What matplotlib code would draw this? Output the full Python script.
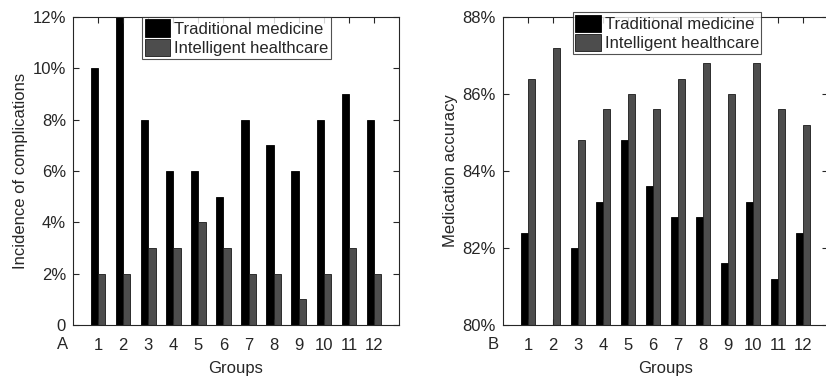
import numpy as np
import matplotlib
matplotlib.use("Agg")
import matplotlib.pyplot as plt
from matplotlib.ticker import FuncFormatter

plt.rcParams['font.family'] = ['Liberation Sans', 'DejaVu Sans']

groups = [1, 2, 3, 4, 5, 6, 7, 8, 9, 10, 11, 12]
series_names = ["Traditional medicine", "Intelligent healthcare"]

# panel A: incidence of complications (%)
comp_traditional = [10, 12, 8, 6, 6, 5, 8, 7, 6, 8, 9, 8]
comp_intelligent = [2, 2, 3, 3, 4, 3, 2, 2, 1, 2, 3, 2]

# panel B: medication accuracy (%), group 2 traditional not visible (below 80%)
acc_traditional = [82.4, np.nan, 82.0, 83.2, 84.8, 83.6, 82.8, 82.8, 81.6, 83.2, 81.2, 82.4]
acc_intelligent = [86.4, 87.2, 84.8, 85.6, 86.0, 85.6, 86.4, 86.8, 86.0, 86.8, 85.6, 85.2]

txt = '#262626'
colors = ['#000000', '#4d4d4d']
fs = 12

fig = plt.figure(figsize=(8.26, 3.76), dpi=100)
axA = fig.add_axes([0.0884, 0.1356, 0.3947, 0.8192])
axB = fig.add_axes([0.609, 0.1356, 0.3935, 0.8192])


def draw(ax, trad, intel, ylim, yticks, fmt, ylabel, letter, leg_anchor):
    x = np.array(groups)
    w = 0.29
    base = ylim[0]
    trad = np.array(trad, dtype=float)
    intel = np.array(intel, dtype=float)
    ax.bar(x - w / 2, trad - base, w, bottom=base, color=colors[0],
           edgecolor='#000000', linewidth=0.6, label=series_names[0])
    ax.bar(x + w / 2, intel - base, w, bottom=base, color=colors[1],
           edgecolor='#1a1a1a', linewidth=0.6, label=series_names[1])
    ax.set_xlim(0, 13)
    ax.set_ylim(*ylim)
    ax.set_xticks(groups)
    ax.set_yticks(yticks)
    ax.yaxis.set_major_formatter(FuncFormatter(fmt))
    ax.tick_params(direction='in', length=4, width=0.8, colors=txt,
                   labelsize=fs, top=True, right=True)
    ax.tick_params(axis='x', pad=9)
    ax.tick_params(axis='y', pad=5)
    for s in ax.spines.values():
        s.set_color(txt)
        s.set_linewidth(0.8)
    ax.set_xlabel("Groups", fontsize=fs, color=txt, labelpad=6)
    ax.set_ylabel(ylabel, fontsize=fs, color=txt, labelpad=3)
    # panel letter sits in the tick label row, left of the axes
    ax.text(-0.4, -0.063, letter, transform=ax.get_xaxis_transform(),
            fontsize=fs, color=txt, ha='center', va='center')
    leg = ax.legend(loc='upper left', bbox_to_anchor=leg_anchor, fontsize=fs,
                    frameon=True, fancybox=False, handlelength=1.55,
                    handleheight=1.2, handletextpad=0.2, labelspacing=0.15,
                    borderpad=0.15, borderaxespad=0)
    leg.get_frame().set_edgecolor(txt)
    leg.get_frame().set_linewidth(0.8)
    for t in leg.get_texts():
        t.set_color(txt)


def fmt_a(v, pos):
    return "0" if v == 0 else "%d%%" % v


def fmt_b(v, pos):
    return "%d%%" % v


draw(axA, comp_traditional, comp_intelligent, (0, 12), [0, 2, 4, 6, 8, 10, 12],
     fmt_a, "Incidence of complications", "A", (0.212, 1.0))
draw(axB, acc_traditional, acc_intelligent, (80, 88), [80, 82, 84, 86, 88],
     fmt_b, "Medication accuracy", "B", (0.215, 1.016))

fig.savefig("out.png", dpi=100)
